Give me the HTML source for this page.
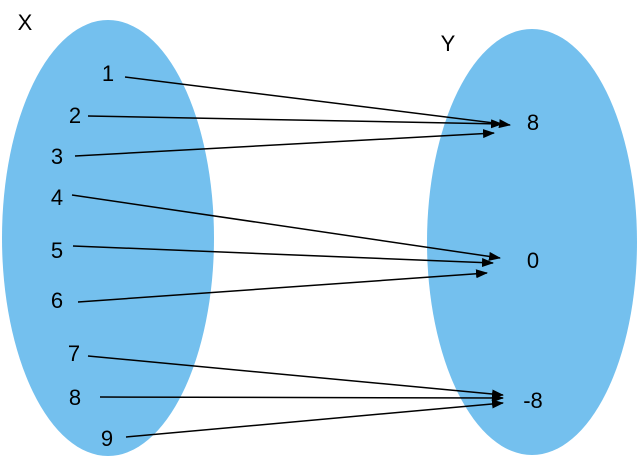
<!DOCTYPE html>
<html><head><style>body{margin:0;background:#fff}</style></head><body>
<svg width="640" height="460" xmlns="http://www.w3.org/2000/svg" font-family="Liberation Sans, sans-serif" font-size="22" fill="#000">
<defs><marker id="a" markerWidth="12" markerHeight="9" refX="11" refY="4.5" orient="auto" markerUnits="userSpaceOnUse"><path d="M0,0 L12,4.5 L0,9 z" fill="#000"/></marker></defs>
<ellipse cx="108" cy="238" rx="106" ry="218" fill="#74C0EE"/>
<ellipse cx="532" cy="242" rx="105" ry="213" fill="#74C0EE"/>
<g stroke="#000" stroke-width="1.5" marker-end="url(#a)">
<line x1="125" y1="77" x2="510" y2="125"/>
<line x1="88" y1="116" x2="502" y2="124"/>
<line x1="75" y1="156" x2="494" y2="133"/>
<line x1="72" y1="195" x2="500" y2="258"/>
<line x1="73" y1="246" x2="493" y2="263"/>
<line x1="78" y1="302" x2="487" y2="273"/>
<line x1="88" y1="356" x2="503" y2="395"/>
<line x1="100" y1="397" x2="503" y2="398"/>
<line x1="126" y1="437" x2="503" y2="403"/>
</g>
<g text-anchor="middle">
<text x="25" y="30">X</text><text x="448" y="51">Y</text>
<text x="108" y="81">1</text><text x="75" y="123">2</text><text x="57" y="164">3</text>
<text x="57" y="205">4</text><text x="57" y="258">5</text><text x="57" y="308">6</text>
<text x="74" y="361">7</text><text x="75" y="405">8</text><text x="107" y="446">9</text>
<text x="533" y="130">8</text><text x="533" y="268">0</text><text x="533" y="408">-8</text>
</g>
</svg>
</body></html>
